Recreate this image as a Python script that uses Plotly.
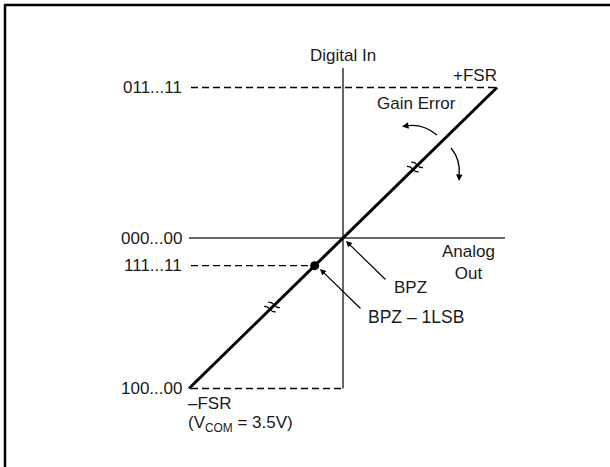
import numpy as np
import plotly.graph_objects as go

# ---- data (normalised: analog out in FSR units, digital codes) ----
transfer_x = [-1.0, 0.0, 1.0]          # -FSR, BPZ, +FSR
transfer_y = [-1.0, 0.0, 1.0]          # 100...00, 000...00, 011...11
lsb_point = [-0.184]                   # BPZ - 1LSB
code_labels = ["011...11", "000...00", "111...11", "100...00"]
code_values = [1.0, 0.0, -0.184, -1.0]

W, H = 610, 467
OX, OY = 343, 238      # origin pixel
SX, SY = 154.0, 150.5  # pixels per FSR unit

def X(px):
    return (px - OX) / SX

def Y(py):
    return (OY - py) / SY

FONT = "Liberation Sans, Arial, sans-serif"
TXT = "#1a1a1a"
AX = "#333333"

fig = go.Figure()

# axes
fig.add_trace(go.Scatter(x=[X(189), X(505)], y=[0, 0], mode="lines",
                         line=dict(color=AX, width=1.5), hoverinfo="skip"))
fig.add_trace(go.Scatter(x=[0, 0], y=[Y(68), -1.0], mode="lines",
                         line=dict(color=AX, width=1.5), hoverinfo="skip"))

# dashed code lines
fig.add_trace(go.Scatter(x=[X(191), transfer_x[2]], y=[code_values[0]] * 2, mode="lines",
                         line=dict(color="black", width=1.3, dash="7px,4px"), hoverinfo="skip"))
fig.add_trace(go.Scatter(x=[X(191), lsb_point[0]], y=[code_values[2]] * 2, mode="lines",
                         line=dict(color="black", width=1.3, dash="7px,4px"), hoverinfo="skip"))
fig.add_trace(go.Scatter(x=[X(191), 0], y=[code_values[3]] * 2, mode="lines",
                         line=dict(color="black", width=1.3, dash="7px,4px"), hoverinfo="skip"))

# transfer line
fig.add_trace(go.Scatter(x=transfer_x, y=transfer_y, mode="lines",
                         line=dict(color="black", width=3), hoverinfo="skip"))
# BPZ - 1LSB dot
fig.add_trace(go.Scatter(x=lsb_point, y=lsb_point, mode="markers",
                         marker=dict(color="black", size=9), hoverinfo="skip"))

ann = []
def text(s, px, py, xanchor="center", size=17):
    ann.append(dict(x=X(px), y=Y(py), xref="x", yref="y", text=s, showarrow=False,
                    xanchor=xanchor, yanchor="middle",
                    font=dict(family=FONT, size=size, color=TXT)))

for lab, val, in zip(code_labels, code_values):
    ann.append(dict(x=X(184), y=val, xref="x", yref="y", text=lab, showarrow=False,
                    xanchor="right", yanchor="middle",
                    font=dict(family=FONT, size=17, color=TXT)))

text("Digital In", 343, 55)
text("+FSR", 499, 75, "right")
text("Gain Error", 416, 103)
text("Analog<br>Out", 468, 262)
text("BPZ", 392, 287, "left")
text("BPZ – 1LSB", 366, 317, "left", size=17.5)
text("–FSR", 186, 403, "left")
text("(V<sub>COM</sub> = 3.5V)", 186, 424, "left")

# pointer arrows
def arrow(tx, ty, sx, sy, width=1.2, head=2, size=1.0):
    ann.append(dict(x=X(tx), y=Y(ty), ax=X(sx), ay=Y(sy), xref="x", yref="y",
                    axref="x", ayref="y", text="", showarrow=True,
                    arrowhead=head, arrowsize=size, arrowwidth=width, arrowcolor="black"))

arrow(346, 241, 387, 281)
arrow(320, 269, 362, 310)

# gain error curved arrows
shapes = []
def curve(p0, c, p1):
    shapes.append(dict(type="path", xref="x", yref="y",
                       path=f"M {X(p0[0])},{Y(p0[1])} Q {X(c[0])},{Y(c[1])} {X(p1[0])},{Y(p1[1])}",
                       line=dict(color="black", width=1.3)))

curve((437, 135), (422, 123), (406, 126))
arrow(402, 126.5, 409, 125.5, width=1.3, head=2, size=1.0)
curve((451, 148), (461, 160), (459, 176))
arrow(459, 181, 459.3, 174, width=1.3, head=2, size=1.0)

# break symbols on the transfer line (two S-strokes across the line)
s2 = 1 / np.sqrt(2)
along = np.array([s2, -s2])                       # up-right along the line (screen px)
ang = np.deg2rad(25)
perp = np.array([np.cos(ang), np.sin(ang)])      # stroke direction, shallow down-right
for bx, by in [(415, 167), (272, 307)]:
    c = np.array([bx, by], dtype=float)
    for off in (-3.0, 3.0):
        base = c + off * along
        p0 = base - 6.5 * perp
        p3 = base + 6.5 * perp
        c1 = p0 + 4.0 * perp + 4.0 * along
        c2 = p3 - 4.0 * perp - 4.0 * along
        path = (f"M {X(p0[0])},{Y(p0[1])} C {X(c1[0])},{Y(c1[1])} "
                f"{X(c2[0])},{Y(c2[1])} {X(p3[0])},{Y(p3[1])}")
        shapes.append(dict(type="path", xref="x", yref="y", path=path,
                           line=dict(color="black", width=1.2)))

# frame (top and left edges)
shapes.append(dict(type="line", xref="paper", yref="paper", x0=4 / W, x1=1, y0=1 - 5 / H, y1=1 - 5 / H,
                   line=dict(color="black", width=2.5)))
shapes.append(dict(type="line", xref="paper", yref="paper", x0=5 / W, x1=5 / W, y0=1 - 4 / H, y1=0,
                   line=dict(color="black", width=2.5)))

fig.update_layout(
    width=W, height=H, margin=dict(l=0, r=0, t=0, b=0),
    paper_bgcolor="white", plot_bgcolor="white", showlegend=False,
    xaxis=dict(range=[X(0), X(W)], visible=False, fixedrange=True),
    yaxis=dict(range=[Y(H), Y(0)], visible=False, fixedrange=True),
    annotations=ann, shapes=shapes,
)

fig.write_html("out.html", config={"displayModeBar": False},
               post_script="document.body.style.margin='0';document.body.style.overflow='hidden';")
